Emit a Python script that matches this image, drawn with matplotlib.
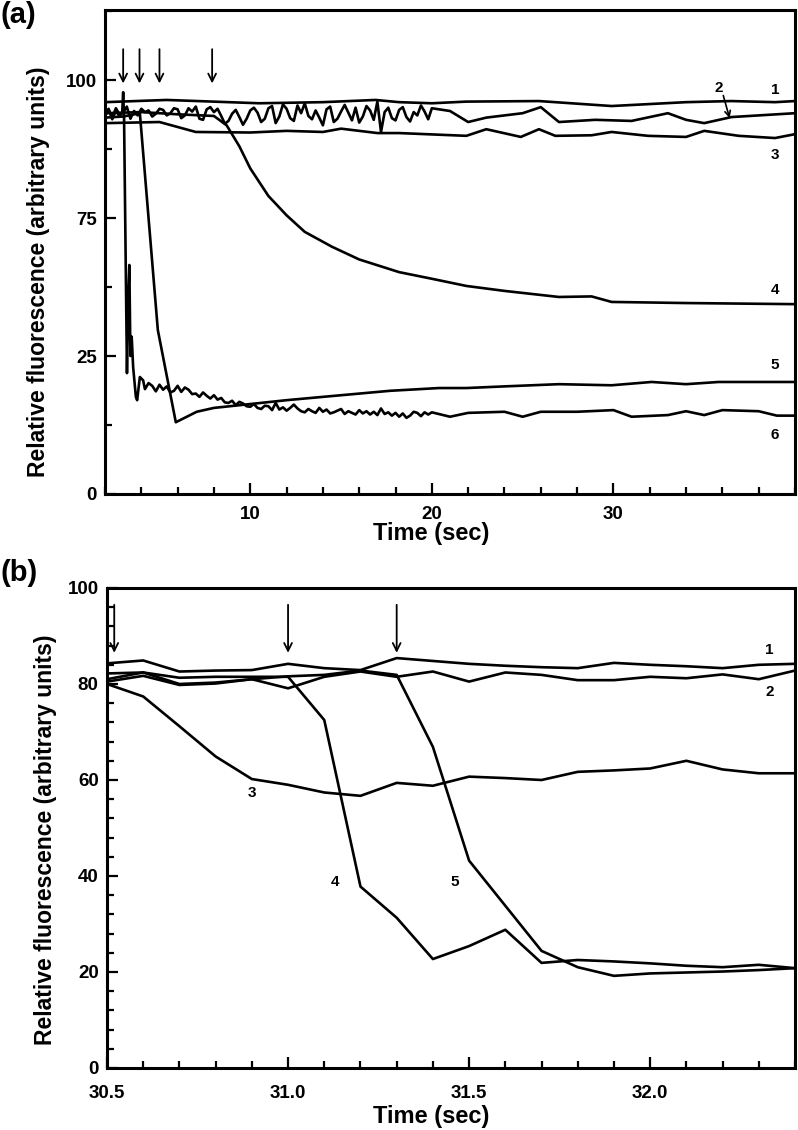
import matplotlib
matplotlib.use("Agg")
import matplotlib.pyplot as plt
import numpy as np
from matplotlib.ticker import FixedLocator, MultipleLocator

plt.rcParams["font.family"] = ["Liberation Sans", "DejaVu Sans"]
plt.rcParams["font.weight"] = "bold"

# ---------------- panel (a) ----------------
# y values are in the plotted scale; the tick labels read 0, 25, 75, 100
a_yticks = [25, 50, 75, 100]
a_yticklabels = ["0", "25", "75", "100"]
a_xticks = [10, 20, 30]

a1_t = [2, 5.4, 10.5, 14, 16.9, 18.2, 20, 21.9, 25.9, 29.9, 34, 36.5, 38.9, 40]
a1_v = [96.0, 96.4, 95.8, 96.0, 96.4, 96.0, 95.8, 96.1, 96.2, 95.3, 96.0, 96.2, 96.0, 96.2]

# noisy part of trace 2 (sampled every 0.2 s from 2 to 20 s), then sparse points
a2_noise = [
    93.5, 94.6, 93.2, 94.9, 93.8, 94.1, 95.2, 93.0, 94.4, 93.6, 94.8,
    94.2, 94.5, 93.4, 93.9, 94.8, 94.6, 93.6, 94.0, 94.9, 94.7,
    93.1, 93.6, 94.9, 94.3, 95.2, 93.0, 92.8, 94.7, 95.1, 94.2,
    94.8, 93.5, 92.1, 92.6, 93.9, 94.6, 93.3, 91.9, 93.0, 94.5,
    95.0, 94.1, 92.4, 93.0, 94.9, 95.3, 92.2, 93.4, 95.6, 94.8,
    93.1, 92.6, 95.4, 94.0, 95.8, 93.5, 92.9, 94.5, 93.2, 91.8,
    94.7, 95.2, 92.4, 93.0, 94.3, 95.5, 94.1, 92.7, 95.0, 92.3,
    93.4, 95.3, 94.5, 92.8, 96.1, 90.6, 94.2, 95.0, 93.1, 92.7,
    94.6, 95.1, 93.3, 92.5, 94.2, 93.6, 95.4, 94.3, 92.9, 94.9,
]
a2_t = [21, 22, 23, 25, 26, 27, 29, 31, 33, 34, 35, 36.5, 40]
a2_v = [94.4, 92.4, 93.2, 94.0, 95.1, 92.4, 92.8, 92.6, 94.0, 92.8, 92.2, 93.3, 94.0]

a3_t = [2, 5, 7, 10, 12, 14, 15, 17, 18.2, 21.9, 23, 24.9, 25.9, 26.8, 28.8, 29.9,
        31.9, 34, 35, 36.9, 38.9, 40]
a3_v = [92.2, 92.4, 90.6, 90.5, 90.8, 90.6, 91.2, 90.4, 90.4, 89.9, 91.1, 89.7, 91.1,
        89.9, 90.0, 90.6, 89.9, 89.7, 90.8, 89.9, 89.5, 90.2]

a4_t = [2, 4, 6, 8, 8.7, 9.4, 10, 11, 12, 13, 14.5, 16, 18.2, 20, 21.9, 24, 27, 28.8,
        29.9, 32, 34, 40]
a4_v = [94.0, 94.2, 93.8, 93.5, 91.8, 88.0, 84.0, 79.0, 75.5, 72.5, 69.8, 67.5, 65.2,
        64.0, 62.7, 61.8, 60.7, 60.8, 59.8, 59.7, 59.6, 59.4]

a5_t = [2, 3, 3.92, 4.91, 5.9, 7.05, 8, 10, 12, 14, 17.7, 20.4, 21.9, 24, 27, 29.9,
        32.1, 34, 35.8, 40]
a5_v = [93.2, 93.4, 94.0, 54.7, 38.0, 39.9, 40.6, 41.3, 42.0, 42.6, 43.7, 44.2, 44.2,
        44.5, 44.9, 44.7, 45.3, 44.9, 45.3, 45.3]

# trace 6: fast drop after the first addition
a6_head_t = [2.0, 2.2, 2.4, 2.6, 2.8, 2.95, 3.0, 3.05, 3.21, 3.28, 3.34, 3.4, 3.47,
             3.55, 3.7, 3.77, 3.92, 4.1]
a6_head_v = [93.8, 94.8, 92.9, 94.5, 93.4, 94.2, 97.8, 93.0, 46.9, 60.5, 66.5, 50.0,
             53.5, 48.0, 42.6, 42.0, 46.2, 45.6]
a6_noise = [  # 4.2 .. 20.0 s, every 0.2 s
    44.0, 45.1, 44.6, 43.6, 44.8, 43.9, 44.5, 43.4, 43.7, 44.6,
    43.5, 44.3, 43.9, 43.1, 43.2, 42.6, 43.4, 42.8, 42.3, 42.9,
    42.1, 42.4, 41.6, 41.5, 41.9, 41.1, 41.7, 41.4, 40.9, 40.8,
    41.3, 40.6, 40.4, 41.0, 40.9, 40.2, 41.5, 40.3, 40.7, 40.1,
    40.6, 41.2, 40.5, 40.0, 39.8, 40.4, 40.0, 39.7, 40.6, 39.9,
    40.3, 39.6, 39.8, 40.1, 40.4, 39.5, 40.0, 39.7, 39.4, 40.2,
    39.6, 40.0, 39.4, 39.9, 39.3, 40.5, 39.5, 39.8, 39.2, 39.7,
    39.0, 39.6, 38.8, 39.2, 39.9, 39.7, 39.1, 39.8, 39.4, 39.8,
]
a6_tail_t = [21, 22, 24, 25, 26, 28, 30, 31, 33, 34, 35, 36, 38, 39, 40]
a6_tail_v = [39.0, 39.7, 39.9, 39.0, 39.9, 39.9, 40.2, 39.0, 39.3, 40.0, 39.3, 40.2,
             40.0, 39.2, 39.2]

a_arrows_t = [3.0, 3.9, 5.0, 7.9]
a_labels = ["1", "3", "4", "5", "6"]
a_label_v = [98.2, 86.4, 62.0, 48.4, 35.7]

# ---------------- panel (b) ----------------
b_t = [30.5, 30.6, 30.7, 30.8, 30.9, 31.0, 31.1, 31.2, 31.3, 31.4,
       31.5, 31.6, 31.7, 31.8, 31.9, 32.0, 32.1, 32.2, 32.3, 32.4]
b1 = [84.3, 84.9, 82.6, 82.8, 82.9, 84.2, 83.3, 82.9, 85.4, 84.8,
      84.2, 83.8, 83.5, 83.3, 84.4, 84.0, 83.7, 83.3, 84.0, 84.2]
b2 = [82.2, 82.4, 80.0, 80.3, 81.0, 79.1, 81.5, 82.6, 81.5, 82.6,
      80.5, 82.4, 81.9, 80.8, 80.8, 81.5, 81.2, 82.0, 81.0, 82.8]
b3 = [80.0, 77.4, 71.2, 64.9, 60.2, 59.0, 57.4, 56.7, 59.4, 58.8,
      60.7, 60.4, 60.0, 61.7, 62.0, 62.4, 64.0, 62.2, 61.4, 61.4]
b4 = [81.0, 82.4, 81.3, 81.5, 81.5, 81.5, 72.5, 37.8, 31.3, 22.7,
      25.4, 28.8, 21.9, 22.5, 22.2, 21.8, 21.3, 21.0, 21.5, 20.8]
b5 = [80.5, 81.7, 79.8, 80.1, 81.0, 81.6, 81.9, 82.8, 81.9, 66.9,
      43.2, 33.8, 24.4, 21.0, 19.2, 19.7, 19.9, 20.1, 20.4, 20.8]

b_arrows_t = [30.52, 31.0, 31.3]
b_labels = ["1", "2", "3", "4", "5"]
b_label_t = [32.33, 32.33, 30.9, 31.13, 31.46]
b_label_v = [87.1, 78.3, 57.3, 38.8, 38.8]

LW = 1.9
FIG_W, FIG_H = 798, 1130


def style_axes(ax, xpad):
    for s in ax.spines.values():
        s.set_linewidth(2.2)
    ax.tick_params(which="both", direction="in", width=1.6, labelsize=13.5,
                   top=False, right=False)
    ax.tick_params(which="major", length=8)
    ax.tick_params(which="minor", length=5)
    ax.tick_params(axis="y", pad=6)
    ax.tick_params(axis="x", pad=xpad)
    for lab in ax.get_xticklabels() + ax.get_yticklabels():
        lab.set_fontweight("bold")


def axes_rect(left, top, right, bottom):
    return [left / FIG_W, 1 - bottom / FIG_H, (right - left) / FIG_W, (bottom - top) / FIG_H]


fig = plt.figure(figsize=(FIG_W / 100, FIG_H / 100), dpi=100)

# panel (a)
ax = fig.add_axes(axes_rect(105, 10, 795, 494))
ax.plot(a1_t, a1_v, color="black", lw=LW)
t_noise2 = np.linspace(2, 20, len(a2_noise))
ax.plot(list(t_noise2) + a2_t, a2_noise + a2_v, color="black", lw=LW)
ax.plot(a3_t, a3_v, color="black", lw=LW)
ax.plot(a4_t, a4_v, color="black", lw=LW)
ax.plot(a5_t, a5_v, color="black", lw=LW)
t_noise6 = np.linspace(4.2, 20, len(a6_noise))
ax.plot(a6_head_t + list(t_noise6) + a6_tail_t, a6_head_v + a6_noise + a6_tail_v,
        color="black", lw=LW)

for t in a_arrows_t:
    ax.annotate("", xy=(t, 99.4), xytext=(t, 105.6),
                arrowprops=dict(arrowstyle="->", lw=1.3, color="black",
                                mutation_scale=14, shrinkA=0, shrinkB=0))
for lab, v in zip(a_labels, a_label_v):
    ax.text(38.9, v, lab, ha="center", va="center", fontsize=11, fontweight="bold")
ax.text(35.8, 98.5, "2", ha="center", va="center", fontsize=11, fontweight="bold")
ax.annotate("", xy=(36.4, 93.1), xytext=(36.05, 97.2),
            arrowprops=dict(arrowstyle="->", lw=1.2, color="black",
                            mutation_scale=10, shrinkA=0, shrinkB=0))

ax.set_xlim(2, 40)
ax.set_ylim(25, 112.7)
ax.xaxis.set_major_locator(FixedLocator(a_xticks))
ax.xaxis.set_minor_locator(MultipleLocator(2))
ax.yaxis.set_major_locator(FixedLocator(a_yticks))
ax.set_yticklabels(a_yticklabels)
ax.yaxis.set_minor_locator(MultipleLocator(12.5))
style_axes(ax, xpad=9)
ax.set_xlabel("Time (sec)", fontsize=17, fontweight="bold")
ax.xaxis.set_label_coords(0.4725, -0.081)
ax.xaxis.label.set_va("center")
ax.set_ylabel("Relative fluorescence (arbitrary units)", fontsize=16.5, fontweight="bold")
ax.yaxis.set_label_coords(-0.097, 0.459)
ax.yaxis.label.set_va("center")
fig.text(0.0, 1 - 15 / FIG_H, "(a)", fontsize=21, fontweight="bold", va="center", ha="left")

# panel (b)
bx = fig.add_axes(axes_rect(107, 588, 795, 1068))
for series in (b1, b2, b3, b4, b5):
    bx.plot(b_t, series, color="black", lw=LW)
for t in b_arrows_t:
    bx.annotate("", xy=(t, 86.5), xytext=(t, 96.5),
                arrowprops=dict(arrowstyle="->", lw=1.3, color="black",
                                mutation_scale=14, shrinkA=0, shrinkB=0))
for lab, t, v in zip(b_labels, b_label_t, b_label_v):
    bx.text(t, v, lab, ha="center", va="center", fontsize=11, fontweight="bold")

bx.set_xlim(30.5, 32.4)
bx.set_ylim(0, 100)
bx.xaxis.set_major_locator(FixedLocator([30.5, 31.0, 31.5, 32.0]))
bx.xaxis.set_minor_locator(MultipleLocator(0.1))
bx.set_xticklabels(["30.5", "31.0", "31.5", "32.0"])
bx.yaxis.set_major_locator(MultipleLocator(20))
bx.yaxis.set_minor_locator(MultipleLocator(4))
style_axes(bx, xpad=12)
bx.set_xlabel("Time (sec)", fontsize=17, fontweight="bold")
bx.xaxis.set_label_coords(0.471, -0.102)
bx.xaxis.label.set_va("center")
bx.set_ylabel("Relative fluorescence (arbitrary units)", fontsize=16.5, fontweight="bold")
bx.yaxis.set_label_coords(-0.090, 0.475)
bx.yaxis.label.set_va("center")
fig.text(0.0, 1 - 573 / FIG_H, "(b)", fontsize=21, fontweight="bold", va="center", ha="left")

fig.savefig("out.png", dpi=100)
